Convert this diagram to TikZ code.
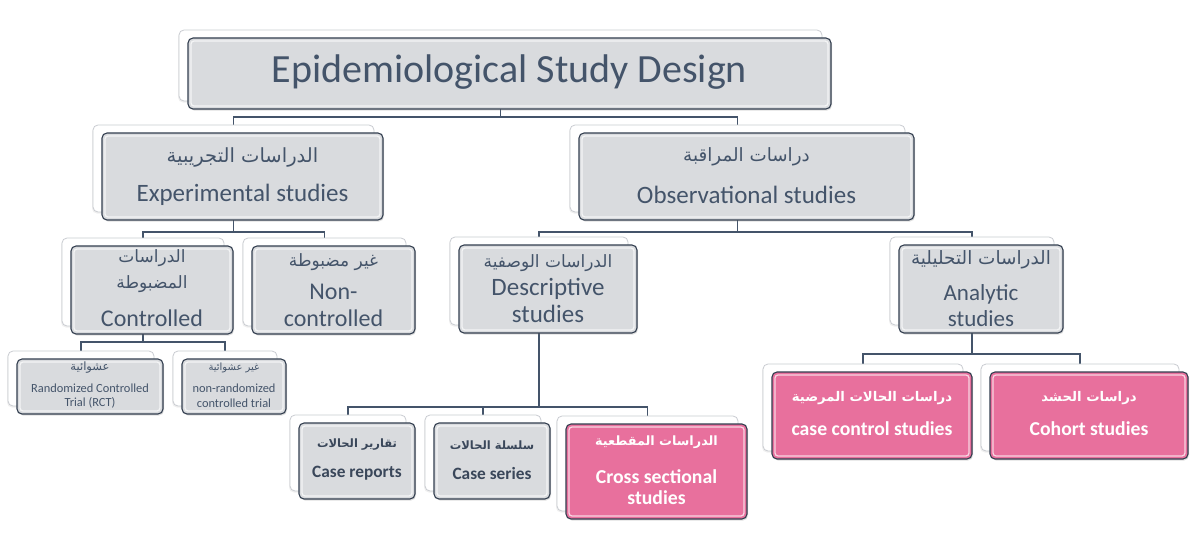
\documentclass[tikz,border=0pt]{standalone}
\usepackage{fontspec}
\setmainfont{Carlito}
\newfontfamily\arabicfont[Script=Arabic]{DejaVu Sans}
\TeXXeTstate=1
\usetikzlibrary{shadows,calc}
\pgfdeclarelayer{bg}
\pgfsetlayers{bg,main}
\definecolor{tdark}{HTML}{44546A}
\definecolor{bdark}{HTML}{323E4F}
\definecolor{boxgray}{HTML}{D9DBDE}
\definecolor{pinkbox}{HTML}{E8709D}
\definecolor{cardline}{HTML}{C9CCD1}
\tikzset{
 backcard/.style={draw=cardline, line width=0.8pt, fill=white, rounded corners=5pt, inner sep=0pt, outer sep=0pt,
   drop shadow={opacity=0.12, shadow xshift=-1pt, shadow yshift=-1.5pt}},
 frontbox/.style={draw=bdark, line width=1.1pt, fill=boxgray, rounded corners=5pt, inner sep=0pt, outer sep=0pt,
   drop shadow={opacity=0.25, shadow xshift=1pt, shadow yshift=-1.5pt}},
 pinkfill/.style={fill=pinkbox},
 bevel/.style={draw=white, draw opacity=0.7, line width=1.3pt, rounded corners=3pt},
 conn/.style={draw=tdark, line width=1.1pt},
 ttl/.style={font=\fontsize{40}{46}\selectfont, text=tdark, inner sep=0pt},
 en/.style={font=\fontsize{25}{30}\selectfont, text=tdark, inner sep=0pt},
 enm/.style={font=\fontsize{24}{28}\selectfont, text=tdark, inner sep=0pt},
 ar/.style={font=\arabicfont\fontsize{17}{20}\selectfont, text=tdark, inner sep=0pt},
 ensm/.style={font=\fontsize{12.4}{14}\selectfont, text=tdark, inner sep=0pt},
 arsm/.style={font=\arabicfont\fontsize{10}{12}\selectfont, text=tdark, inner sep=0pt},
 enb/.style={font=\bfseries\fontsize{17.3}{20}\selectfont, text=tdark!85!black, inner sep=0pt},
 arb/.style={font=\arabicfont\bfseries\fontsize{11.5}{14}\selectfont, text=tdark!85!black, inner sep=0pt},
 enw/.style={font=\bfseries\fontsize{19.7}{23}\selectfont, text=white, inner sep=0pt},
 arw/.style={font=\arabicfont\bfseries\fontsize{13.3}{16}\selectfont, text=white, inner sep=0pt},
}
\newcommand\mkcard[6]{%
 \node[backcard, minimum width={(#4-#2)*1pt}, minimum height={(#5-#3)*1pt}] (#1b) at ({(#2+#4)/2-9},{(#3+#5)/2-8}) {};
 \node[frontbox, #6, minimum width={(#4-#2)*1pt}, minimum height={(#5-#3)*1pt}] (#1) at ({(#2+#4)/2},{(#3+#5)/2}) {};
 \draw[bevel] ([shift={(3pt,-3pt)}]#1.north west) rectangle ([shift={(-3pt,3pt)}]#1.south east);
}
\begin{document}
\begin{tikzpicture}[x=1pt,y=-1pt]
\useasboundingbox (0,0) rectangle (1200,535);
% cards
\mkcard{top}{188}{38}{831}{109}{}
\mkcard{exp}{102}{133}{383}{220}{}
\mkcard{obs}{579}{133}{914}{220}{}
\mkcard{ctrl}{71}{246}{233}{334}{}
\mkcard{nonc}{252}{246}{415}{334}{}
\mkcard{rct}{17}{359}{163}{414}{}
\mkcard{nrct}{182}{359}{286}{414}{}
\mkcard{desc}{459}{245}{637}{333}{}
\mkcard{ana}{899}{245}{1063}{333}{}
\mkcard{crep}{299}{423}{415}{499}{}
\mkcard{cser}{434}{423}{550}{499}{}
\mkcard{cross}{566}{424}{747}{519}{pinkfill}
\mkcard{cc}{772}{372}{972}{459}{pinkfill}
\mkcard{coh}{990}{372}{1188}{459}{pinkfill}
% bus coordinates
\coordinate (bus1) at (0,117);
\coordinate (bus2) at (0,232);
\coordinate (bus3) at (0,342);
\coordinate (bus4) at (0,407);
\coordinate (bus5) at (0,354);
\begin{pgfonlayer}{bg}
\fill[white] (0,0) rectangle (1200,535);
\draw[conn] (topb.center) -- (topb.center |- bus1) -| (expb.north);
\draw[conn] (topb.center |- bus1) -| (obsb.north);
\draw[conn] (expb.center) -- (expb.center |- bus2) -| (ctrlb.north);
\draw[conn] (expb.center |- bus2) -| (noncb.north);
\draw[conn] (obsb.center) -- (obsb.center |- bus2) -| (descb.north);
\draw[conn] (obsb.center |- bus2) -| (anab.north);
\draw[conn] (ctrlb.center) -- (ctrlb.center |- bus3) -| (rctb.north);
\draw[conn] (ctrlb.center |- bus3) -| (nrctb.north);
\draw[conn] (descb.center) -- (descb.center |- bus4) -| (crepb.north);
\draw[conn] (descb.center |- bus4) -| (cserb.north);
\draw[conn] (descb.center |- bus4) -| (crossb.north);
\draw[conn] (anab.center) -- (anab.center |- bus5) -| (ccb.north);
\draw[conn] (anab.center |- bus5) -| (cohb.north);
\end{pgfonlayer}
% texts
\node[ttl] (ttlt) at (509.5,72) {Epidemiological Study Design};
\node[ar, font=\arabicfont\fontsize{19.5}{22}\selectfont] (expar) at (242.5,157) {\beginR الدراسات التجريبية\endR};
\node[en] (expen) at (242.5,195) {Experimental studies};
\node[ar, font=\arabicfont\fontsize{18.3}{22}\selectfont] (obsar) at (746.5,157) {\beginR دراسات المراقبة\endR};
\node[en] (obsen) at (746.5,195) {Observational studies};
\node[ar] (ctrlar1) at (152,258) {\beginR الدراسات\endR};
\node[ar] (ctrlar2) at (152,284) {\beginR المضبوطة\endR};
\node[enm] (ctrlen) at (152,318) {Controlled};
\node[ar] (noncar) at (333.5,262) {\beginR غير مضبوطة\endR};
\node[enm] (noncen1) at (333.5,292) {Non-};
\node[enm] (noncen2) at (333.5,318) {controlled};
\node[arsm, font=\arabicfont\fontsize{11.5}{13}\selectfont] (rctar) at (90,368) {\beginR عشوائية\endR};
\node[ensm] (rcten1) at (90,388) {Randomized Controlled};
\node[ensm] (rcten2) at (90,403) {Trial (RCT)};
\node[arsm] (nrctar) at (234,368) {\beginR غير عشوائية\endR};
\node[ensm] (nrcten1) at (234,388) {non-randomized};
\node[ensm] (nrcten2) at (234,403) {controlled trial};
\node[ar] (descar) at (548,263) {\beginR الدراسات الوصفية\endR};
\node[en] (descen1) at (548,289) {Descriptive};
\node[en] (descen2) at (548,314) {studies};
\node[ar, font=\arabicfont\fontsize{18.4}{22}\selectfont] (anaar) at (981,260) {\beginR الدراسات التحليلية\endR};
\node[enm, font=\fontsize{23}{27}\selectfont] (anaen1) at (981,294) {Analytic};
\node[enm, font=\fontsize{23}{27}\selectfont] (anaen2) at (981,319) {studies};
\node[arb] (crepar) at (357,445) {\beginR تقارير الحالات\endR};
\node[enb] (crepen) at (357,473) {Case reports};
\node[arb] (cserar) at (492,445) {\beginR سلسلة الحالات\endR};
\node[enb] (cseren) at (492,473) {Case series};
\node[arw, font=\arabicfont\bfseries\fontsize{12.8}{15}\selectfont] (crossar) at (656.5,442) {\beginR الدراسات المقطعية\endR};
\node[enw] (crossen1) at (656.5,477) {Cross sectional};
\node[enw] (crossen2) at (656.5,498) {studies};
\node[arw] (ccar) at (872,398) {\beginR دراسات الحالات المرضية\endR};
\node[enw] (ccen) at (872,429) {case control studies};
\node[arw] (cohar) at (1089,398) {\beginR دراسات الحشد\endR};
\node[enw] (cohen) at (1089,429) {Cohort studies};
\end{tikzpicture}
\end{document}
